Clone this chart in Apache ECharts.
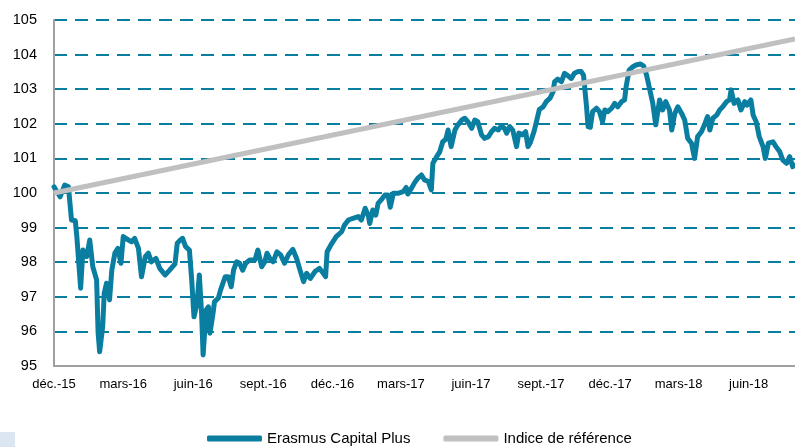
<!DOCTYPE html>
<html>
<head>
<meta charset="utf-8">
<script src="https://cdn.jsdelivr.net/npm/echarts@6/dist/echarts.min.js"></script>
<style>
html,body{margin:0;padding:0;background:#fff;}
#c{width:795px;height:447px;}
</style>
</head>
<body>
<div id="c"></div>
<script>
// ---- data ----
const seriesNames = ['Erasmus Capital Plus', 'Indice de référence'];

const fundDates = [
'2015-12-01','2015-12-09','2015-12-15','2015-12-20','2015-12-24','2015-12-29','2015-12-31',
'2016-01-05','2016-01-08','2016-01-13','2016-01-17','2016-01-21','2016-01-26','2016-01-28','2016-01-30',
'2016-02-03','2016-02-05','2016-02-08','2016-02-12','2016-02-15','2016-02-19','2016-02-23','2016-02-27',
'2016-03-01','2016-03-08','2016-03-12','2016-03-16','2016-03-21','2016-03-25','2016-03-30',
'2016-04-03','2016-04-07','2016-04-13','2016-04-18','2016-04-25',
'2016-05-01','2016-05-08','2016-05-11','2016-05-15','2016-05-18','2016-05-22','2016-05-27','2016-05-30',
'2016-06-02','2016-06-06','2016-06-09','2016-06-12','2016-06-14','2016-06-18','2016-06-21','2016-06-23','2016-06-27','2016-06-29',
'2016-07-04','2016-07-07','2016-07-13','2016-07-17','2016-07-21','2016-07-24','2016-07-28',
'2016-08-01','2016-08-05','2016-08-09','2016-08-14','2016-08-21','2016-08-25','2016-08-30',
'2016-09-03','2016-09-06','2016-09-11','2016-09-14','2016-09-19','2016-09-24','2016-09-29',
'2016-10-04','2016-10-10','2016-10-15','2016-10-19','2016-10-24','2016-10-28',
'2016-11-02','2016-11-08','2016-11-14','2016-11-19','2016-11-22','2016-11-24','2016-11-30',
'2016-12-06','2016-12-13','2016-12-17','2016-12-22','2016-12-28',
'2017-01-04','2017-01-08','2017-01-13','2017-01-17','2017-01-19','2017-01-23','2017-01-27','2017-01-30',
'2017-02-03','2017-02-08','2017-02-12','2017-02-15','2017-02-19','2017-02-25',
'2017-03-04','2017-03-08','2017-03-10','2017-03-15','2017-03-19','2017-03-23','2017-03-28',
'2017-04-01','2017-04-06','2017-04-10','2017-04-12','2017-04-17','2017-04-21','2017-04-25','2017-04-29',
'2017-05-02','2017-05-06','2017-05-11','2017-05-15','2017-05-20','2017-05-24','2017-05-28',
'2017-06-02','2017-06-06','2017-06-10','2017-06-15','2017-06-19','2017-06-24','2017-06-28',
'2017-07-02','2017-07-07','2017-07-11','2017-07-15','2017-07-18','2017-07-22','2017-07-26','2017-07-31',
'2017-08-03','2017-08-08','2017-08-12','2017-08-15','2017-08-18','2017-08-23','2017-08-26','2017-08-30',
'2017-09-04','2017-09-08','2017-09-13','2017-09-17','2017-09-19','2017-09-23','2017-09-28',
'2017-10-02','2017-10-07','2017-10-11','2017-10-15','2017-10-20','2017-10-24','2017-10-27','2017-10-31',
'2017-11-02','2017-11-05','2017-11-08','2017-11-13','2017-11-17','2017-11-21','2017-11-24','2017-11-28',
'2017-12-03','2017-12-07','2017-12-11','2017-12-16','2017-12-20','2017-12-22','2017-12-26','2017-12-31',
'2018-01-04','2018-01-10','2018-01-14','2018-01-18','2018-01-22','2018-01-26','2018-01-30',
'2018-02-04','2018-02-08','2018-02-12','2018-02-17','2018-02-20','2018-02-24','2018-02-28',
'2018-03-05','2018-03-09','2018-03-13','2018-03-18','2018-03-22','2018-03-26','2018-03-31',
'2018-04-04','2018-04-08','2018-04-11','2018-04-15','2018-04-20','2018-04-24','2018-04-28',
'2018-05-03','2018-05-07','2018-05-09','2018-05-13','2018-05-18','2018-05-22','2018-05-27','2018-05-30',
'2018-06-04','2018-06-07','2018-06-11','2018-06-15','2018-06-20','2018-06-23','2018-06-27',
'2018-07-03','2018-07-07','2018-07-12','2018-07-16','2018-07-21','2018-07-25','2018-07-29','2018-07-31'
];

const fundValues = [
100.18,99.89,100.23,100.18,99.22,99.20,98.74,
97.25,98.35,98.16,98.64,97.87,97.49,95.95,95.41,
96.14,97.10,97.39,96.91,97.77,98.26,98.40,97.97,
98.74,98.64,98.59,98.69,98.40,97.58,98.16,
98.26,98.01,98.11,97.82,97.63,
97.77,97.95,98.55,98.64,98.69,98.45,98.35,97.49,
96.42,96.81,97.63,96.52,95.32,96.62,96.71,95.95,96.52,96.86,
96.96,97.20,97.58,97.58,97.29,97.77,98.01,
97.97,97.77,97.97,98.06,98.06,98.35,97.87,
98.01,98.26,98.06,98.01,98.30,98.21,97.97,
98.21,98.37,98.10,97.80,97.44,97.68,
97.53,97.73,97.82,97.68,97.58,98.30,98.54,
98.74,98.88,99.08,99.22,99.27,
99.32,99.22,99.56,99.36,99.12,99.51,99.36,99.70,
99.80,99.94,99.94,99.59,99.99,99.99,
100.04,100.16,99.97,100.14,100.30,100.42,100.52,
100.38,100.33,100.09,100.86,101.05,101.19,101.48,101.55,
101.82,101.34,101.82,101.97,102.11,102.16,102.06,
101.87,102.11,102.06,101.68,101.58,101.63,101.77,
101.87,101.82,101.94,101.87,101.73,101.92,101.82,101.34,
101.73,101.68,101.77,101.34,101.45,101.78,102.05,102.42,
102.49,102.64,102.74,102.93,103.22,103.29,103.22,
103.46,103.38,103.31,103.46,103.51,103.51,103.41,102.49,
101.92,101.90,102.35,102.45,102.35,102.06,102.40,102.35,
102.45,102.59,102.49,102.64,102.69,103.07,103.55,103.65,
103.70,103.73,103.67,103.40,103.00,102.60,101.97,
102.69,102.40,102.64,102.40,101.82,102.30,102.49,
102.30,102.11,101.58,101.44,101.00,101.63,101.77,
101.97,102.21,101.82,102.16,102.25,102.40,102.49,
102.64,102.69,102.98,102.59,102.69,102.40,102.64,102.54,
102.69,102.25,102.06,101.63,101.34,101.00,101.44,
101.48,101.34,101.19,100.95,100.86,101.05,100.76,100.80
];

const benchDates = ['2015-12-01', '2018-08-01'];
const benchValues = [100, 104.45];

const tickDates = ['2015-12-01','2016-03-01','2016-06-01','2016-09-01','2016-12-01','2017-03-01',
                   '2017-06-01','2017-09-01','2017-12-01','2018-03-01','2018-06-01'];
const tickLabels = ['déc.-15','mars-16','juin-16','sept.-16','déc.-16','mars-17',
                    'juin-17','sept.-17','déc.-17','mars-18','juin-18'];

const yMin = 95, yMax = 105, yStep = 1;
const xMin = '2015-12-01', xMax = '2018-08-01';

// ---- build ----
function ts(s){ const p = s.split('-'); return Date.UTC(+p[0], +p[1]-1, +p[2]); }
const tickTs = tickDates.map(ts);

const TEAL = '#0a7ea0';
const GRAY = '#c0c0c0';
const FONT = '"Liberation Sans",Arial,sans-serif';

const chart = echarts.init(document.getElementById('c'), null, {renderer:'canvas'});
chart.setOption({
  animation: false,
  backgroundColor: '#ffffff',
  grid: { left: 54, right: 0, top: 20, bottom: 81, containLabel: false },
  legend: {
    left: 207, top: 431, padding: 0,
    itemWidth: 55, itemHeight: 6, itemGap: 33,
    textStyle: { fontFamily: FONT, fontSize: 15, color: '#000' },
    data: [
      { name: seriesNames[0], icon: 'roundRect', itemStyle: { color: TEAL } },
      { name: seriesNames[1], icon: 'roundRect', itemStyle: { color: GRAY } }
    ]
  },
  xAxis: {
    type: 'value',
    min: ts(xMin), max: ts(xMax),
    axisLine: { show: true, onZero: false, lineStyle: { color: '#a0a0a0', width: 2 } },
    axisTick: { show: false },
    splitLine: { show: false },
    axisLabel: {
      customValues: tickTs,
      showMinLabel: true,
      hideOverlap: false,
      margin: 12,
      fontFamily: FONT, fontSize: 13, color: '#000',
      formatter: function (v) {
        const i = tickTs.indexOf(v);
        return i >= 0 ? tickLabels[i] : '';
      }
    }
  },
  yAxis: {
    type: 'value', min: yMin, max: yMax, interval: yStep,
    axisLine: { show: true, lineStyle: { color: '#a0a0a0', width: 2 } },
    axisTick: { show: false },
    splitLine: { show: true, lineStyle: { color: TEAL, width: 2, type: [13, 8] } },
    axisLabel: { margin: 17, fontFamily: FONT, fontSize: 14.5, color: '#000' }
  },
  series: [
    {
      name: seriesNames[0], type: 'line', symbol: 'none', smooth: false,
      lineStyle: { color: TEAL, width: 5, join: 'round', cap: 'round' },
      itemStyle: { color: TEAL },
      data: fundDates.map((d, i) => [ts(d), fundValues[i]])
    },
    {
      name: seriesNames[1], type: 'line', symbol: 'none',
      lineStyle: { color: GRAY, width: 5 },
      itemStyle: { color: GRAY },
      data: benchDates.map((d, i) => [ts(d), benchValues[i]])
    }
  ],
  graphic: [
    { type: 'rect', left: 0, top: 432, shape: { width: 15, height: 15 }, style: { fill: '#dce6f2' }, silent: true }
  ]
});
</script>
</body>
</html>
